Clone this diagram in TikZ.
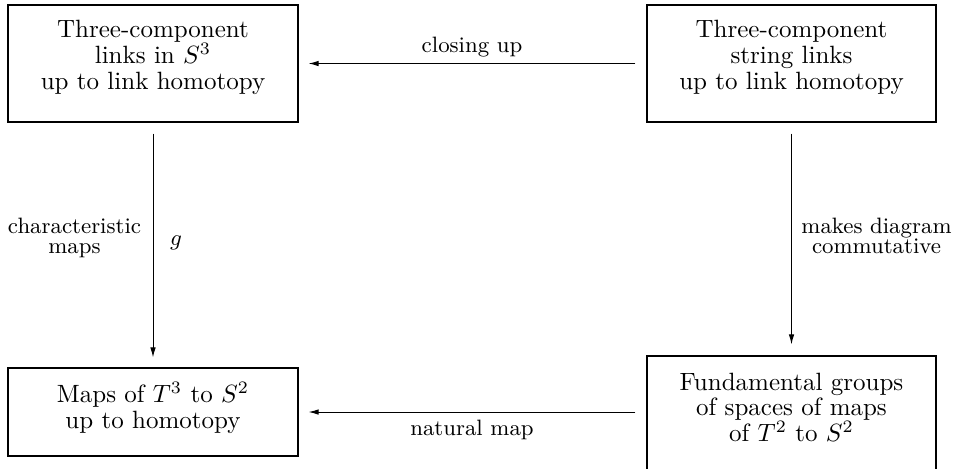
\documentclass[tikz,border=0pt]{standalone}
\usetikzlibrary{arrows.meta}
\tikzset{
  box/.style={draw, line width=0.45pt, inner sep=0pt, minimum width=116pt},
  tallbox/.style={box, minimum height=46.8pt},
  txt/.style={align=center, inner sep=0pt, font={\fontsize{10}{10.3}\selectfont\lineskiplimit=-20pt\relax}},
  lbl/.style={align=center, inner sep=0pt, font={\fontsize{8.9}{8.3}\selectfont\lineskiplimit=-20pt\relax}},
  arr/.style={line width=0.4pt, -{Latex[length=4pt,width=2.2pt]}}
}
\begin{document}
\begin{tikzpicture}[x=0.4pt,y=-0.4pt]
\useasboundingbox (0,0) rectangle (953,468);
% boxes
\node[tallbox] (tl) at (153,63.5) {};
\node[tallbox, minimum width=115.6pt] (tr) at (791.5,63.5) {};
\node[box, minimum height=35.2pt] (bl) at (153,412) {};
\node[tallbox, minimum width=115.6pt] (br) at (791.5,414.5) {};
% box texts
\node[txt] (tlt) at (153,57.2) {Three-component\\links in $S^3$\\up to link homotopy};
\node[txt] (trt) at (791.5,57.2) {Three-component\\string links\\up to link homotopy};
\node[txt] (blt) at (153,407.8) {Maps of $T^3$ to $S^2$\\up to homotopy};
\node[txt] (brt) at (791.5,407.4) {Fundamental groups\\of spaces of maps\\of $T^2$ to $S^2$};
% connectors
\draw[arr, shorten <=4.4pt, shorten >=4pt] (tr) -- (tl);
\draw[arr, shorten <=4.4pt, shorten >=4pt] (br.west |- bl.east) -- (bl.east);
\draw[arr, shorten <=4.4pt, shorten >=4pt] (tl) -- (bl);
\draw[arr, shorten <=4.4pt, shorten >=4.4pt] (tr) -- (br);
% labels
\node[lbl, anchor=base] (cl) at (472,52) {closing up};
\node[lbl, anchor=base] (nm) at (472,435) {natural map};
\node[lbl] (cm) at (74.5,237.9) {characteristic\\maps};
\node[lbl, anchor=base] (g) at (176,245) {$g$};
\node[lbl] (md) at (876.5,235.8) {makes diagram\\commutative};
\end{tikzpicture}
\end{document}
